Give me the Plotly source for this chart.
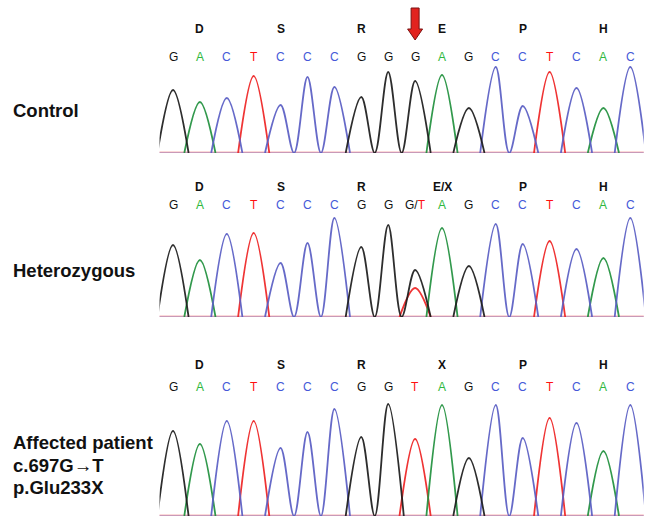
import plotly.graph_objects as go

W, H = 650, 519

# ---------------- data ----------------
ctrl_seq = list("GACTCCCGGGAGCCTCAC")
ctrl_h = [63, 51, 55, 77, 48, 76, 66, 56, 81, 72, 78, 45, 86, 47, 81, 65, 45, 86]
ctrl_aa = ["D", "S", "R", "E", "P", "H"]

het_seq = list("GACTCCCGGGAGCCTCAC")
het_h = [72, 57, 83, 84, 54, 74, 99, 70, 92, 47, 89, 51, 93, 73, 76, 68, 59, 99]
het_extra = [(9, "T", 29)]          # secondary (mutant) peak
het_aa = ["D", "S", "R", "E/X", "P", "H"]
het_calls = ["G", "A", "C", "T", "C", "C", "C", "G", "G", "G/T", "A", "G", "C", "C", "T", "C", "A", "C"]

aff_seq = list("GACTCCCGGTAGCCTCAC")
aff_h = [85, 72, 95, 95, 68, 84, 107, 79, 112, 77, 111, 58, 111, 78, 98, 93, 65, 111]
aff_aa = ["D", "S", "R", "X", "P", "H"]

aa_index = [1, 4, 7, 10, 13, 16]
mut_index = 9

LINE_COL = {"G": "#1c1c1c", "A": "#21903e", "C": "#5a5ec4", "T": "#ee2424"}
TXT_COL = {"G": "#111111", "A": "#2fb83e", "C": "#4459d8", "T": "#ff1010"}
FONT = "Liberation Sans, Arial, sans-serif"
FOOT = 0.58


def channel_xy(seq, heights, ch, extra=None):
    peaks = [(i, h) for i, (b, h) in enumerate(zip(seq, heights)) if b == ch]
    if extra:
        peaks += [(i, h) for (i, c, h) in extra if c == ch]
    peaks.sort()
    xs, ys = [], []
    prev = None
    for k, (i, h) in enumerate(peaks):
        same_prev = prev is not None and i - prev == 1
        nxt = peaks[k + 1][0] if k + 1 < len(peaks) else None
        same_next = nxt is not None and nxt - i == 1
        if not same_prev:
            if xs:
                xs.append(None); ys.append(None)
            xs.append(i - FOOT); ys.append(0)
        xs.append(i); ys.append(h)
        xs.append(i + 0.5 if same_next else i + FOOT); ys.append(0)
        prev = i
    return xs, ys


def py(px):
    return 1 - px / H


panels = [
    dict(seq=ctrl_seq, h=ctrl_h, extra=None, base=153, ymax=100, aa=ctrl_aa,
         calls=ctrl_seq, aa_y=29, call_y=57),
    dict(seq=het_seq, h=het_h, extra=het_extra, base=317, ymax=110, aa=het_aa,
         calls=het_calls, aa_y=187, call_y=205),
    dict(seq=aff_seq, h=aff_h, extra=None, base=516, ymax=120, aa=aff_aa,
         calls=aff_seq, aa_y=365, call_y=387),
]

x0_px, step_px = 173, 26.9
xr = [-0.5, 17.5]
xdom = [(x0_px + step_px * xr[0]) / W, (x0_px + step_px * xr[1]) / W]

fig = go.Figure()
annotations = []
layout = dict(width=W, height=H, margin=dict(l=0, r=0, t=0, b=0),
              paper_bgcolor="white", plot_bgcolor="rgba(0,0,0,0)", showlegend=False)

for p_i, p in enumerate(panels):
    n = "" if p_i == 0 else str(p_i + 1)
    xa, ya = "x" + n, "y" + n
    layout["xaxis" + n] = dict(domain=xdom, range=xr, visible=False, fixedrange=True)
    layout["yaxis" + n] = dict(domain=[py(p["base"]), py(p["base"] - p["ymax"])],
                               range=[0, p["ymax"]], visible=False, fixedrange=True)
    # faint baseline
    for ch, op, yb in (("T", 0.35, 0.8), ("C", 0.3, 0.2)):
        fig.add_trace(go.Scatter(x=[-0.6, 17.6], y=[yb, yb], mode="lines",
                                 line=dict(color=LINE_COL[ch], width=1.4), opacity=op,
                                 xaxis=xa, yaxis=ya, hoverinfo="skip"))
    for ch in ["T", "A", "C", "G"]:
        xs, ys = channel_xy(p["seq"], p["h"], ch, p["extra"])
        fig.add_trace(go.Scatter(x=xs, y=ys, mode="lines",
                                 line=dict(color=LINE_COL[ch], width=1.8, shape="spline", smoothing=1),
                                 opacity=0.92, xaxis=xa, yaxis=ya, hoverinfo="skip"))
    # amino acid labels
    for k, aa in enumerate(p["aa"]):
        annotations.append(dict(x=aa_index[k], xref=xa, y=py(p["aa_y"]), yref="paper",
                                text="<b>%s</b>" % aa, showarrow=False,
                                font=dict(family=FONT, size=12, color="#111111"),
                                xanchor="center", yanchor="middle"))
    # base calls
    for i, c in enumerate(p["calls"]):
        if c == "G/T":
            txt = "G/<span style='color:%s'>T</span>" % TXT_COL["T"]
            col = TXT_COL["G"]
        else:
            txt = c
            col = TXT_COL[c]
        annotations.append(dict(x=i, xref=xa, y=py(p["call_y"]), yref="paper",
                                text=txt, showarrow=False,
                                font=dict(family=FONT, size=12, color=col),
                                xanchor="center", yanchor="middle"))

# left labels
left = [("Control", 111), ("Heterozygous", 270), ("Affected patient", 442),
        ("c.697G\u2192T", 465), ("p.Glu233X", 487)]
for t, y in left:
    annotations.append(dict(x=11 / W, xref="paper", y=py(y), yref="paper",
                            text="<b>%s</b>" % t, showarrow=False,
                            font=dict(family=FONT, size=18.5, color="#111111"),
                            xanchor="left", yanchor="middle"))

layout["annotations"] = annotations
layout["shapes"] = [dict(type="path", xref="x", yref="paper", xsizemode="pixel", ysizemode="pixel",
                         xanchor=mut_index, yanchor=py(40),
                         path="M 0,0 L -7.5,11 L -4,11 L -4,32 L 4,32 L 4,11 L 7.5,11 Z",
                         fillcolor="#e2231f", line=dict(color="#7a1212", width=1))]
fig.update_layout(**layout)
fig.write_html("out.html", config={"displayModeBar": False, "staticPlot": True},
               post_script="document.body.style.margin='0px';")
